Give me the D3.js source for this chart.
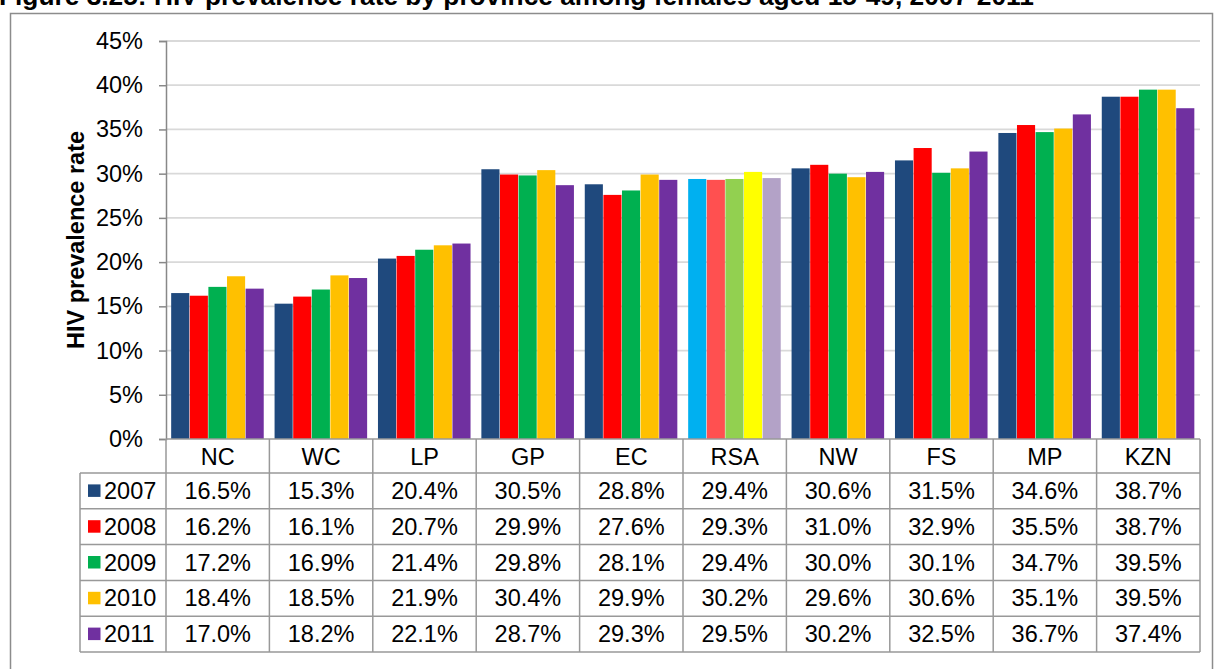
<!DOCTYPE html>
<html><head><meta charset="utf-8">
<script src="https://cdn.jsdelivr.net/npm/d3@7"></script>
<style>body{margin:0;background:#fff;} svg{display:block;font-family:Arial,"Liberation Sans",sans-serif;}</style>
</head><body>
<div id="chart"></div>
<script>
const categories = ["NC","WC","LP","GP","EC","RSA","NW","FS","MP","KZN"];
const years = ["2007","2008","2009","2010","2011"];
const v2007 = [16.5,15.3,20.4,30.5,28.8,29.4,30.6,31.5,34.6,38.7];
const v2008 = [16.2,16.1,20.7,29.9,27.6,29.3,31.0,32.9,35.5,38.7];
const v2009 = [17.2,16.9,21.4,29.8,28.1,29.4,30.0,30.1,34.7,39.5];
const v2010 = [18.4,18.5,21.9,30.4,29.9,30.2,29.6,30.6,35.1,39.5];
const v2011 = [17.0,18.2,22.1,28.7,29.3,29.5,30.2,32.5,36.7,37.4];
const yTicks = [0,5,10,15,20,25,30,35,40,45];
const title = "Figure 3.25: HIV prevalence rate by province among females aged 15-49, 2007-2011";
const yLabel = "HIV prevalence rate";
const colors = ["#1F497D","#FF0000","#00B050","#FFC000","#7030A0"];
const rsaColors = ["#00B0F0","#FF5050","#92D050","#FFFF00","#B3A2C7"];
const series = [v2007,v2008,v2009,v2010,v2011];

(function(){
const W=1215,H=669, FS=23.5;
const svg=d3.select("#chart").append("svg").attr("width",W).attr("height",H);

svg.append("text").attr("x",-1).attr("y",5).attr("font-size",26.3).attr("font-weight","bold").text(title);
svg.append("rect").attr("x",10.5).attr("y",13.5).attr("width",1202).attr("height",700)
  .attr("fill","none").attr("stroke","#8c8c8c").attr("stroke-width",1.5);

const pLeft=166,pRight=1200,pTop=41,pBottom=439;
const x=d3.scaleBand().domain(categories).range([pLeft,pRight]).padding(0);
const bw=x.bandwidth();
const xs=d3.scaleBand().domain(years).range([bw*0.05,bw*0.95]).padding(0);
const y=d3.scaleLinear().domain([0,45]).range([pBottom,pTop]);

svg.append("g").selectAll("line").data(yTicks.filter(t=>t>0)).join("line")
  .attr("x1",pLeft).attr("x2",pRight).attr("y1",d=>y(d)).attr("y2",d=>y(d))
  .attr("stroke","#d9d9d9").attr("stroke-width",1.8);

const g=svg.append("g");
categories.forEach((c,i)=>{
  years.forEach((yr,j)=>{
    const val=series[j][i];
    g.append("rect").attr("x",x(c)+xs(yr)).attr("width",xs.bandwidth()-0.5)
      .attr("y",y(val)).attr("height",y(0)-y(val))
      .attr("fill",c==="RSA"?rsaColors[j]:colors[j]);
  });
});

const ya=svg.append("g").attr("transform",`translate(${pLeft},0)`)
  .call(d3.axisLeft(y).tickValues(yTicks).tickFormat(d=>d+"%").tickSize(7).tickPadding(16));
ya.select(".domain").attr("stroke","#888").attr("stroke-width",1.5);
ya.selectAll(".tick line").attr("stroke","#888").attr("stroke-width",1.5);
ya.selectAll(".tick text").attr("font-size",FS).attr("fill","#000").attr("font-family","Arial,'Liberation Sans',sans-serif");

svg.append("text").attr("transform",`translate(84,240) rotate(-90)`).attr("text-anchor","middle")
  .attr("font-size",23.5).attr("font-weight","bold").text(yLabel);

const rowH=35.8;
const headTop=pBottom, headBot=473;
const tableLeft=80;
const tg=svg.append("g");
categories.forEach(c=>{
  tg.append("text").attr("x",x(c)+bw/2).attr("y",465).attr("text-anchor","middle")
    .attr("font-size",FS).text(c);
});
const lines=svg.append("g").attr("stroke","#999").attr("stroke-width",1.5).attr("fill","none");
categories.forEach(c=>{
  lines.append("line").attr("x1",x(c)+bw).attr("x2",x(c)+bw).attr("y1",headTop).attr("y2",headBot+rowH*5);
});
lines.append("line").attr("x1",pLeft).attr("x2",pLeft).attr("y1",headTop).attr("y2",headBot+rowH*5);
lines.append("line").attr("x1",pLeft).attr("x2",pRight).attr("y1",headTop).attr("y2",headTop);
years.forEach((yr,j)=>{
  const ry=headBot+rowH*j;
  lines.append("line").attr("x1",tableLeft).attr("x2",pRight).attr("y1",ry).attr("y2",ry);
  tg.append("rect").attr("x",88).attr("y",ry+rowH/2-6.5).attr("width",12.5).attr("height",12.5).attr("fill",colors[j]);
  tg.append("text").attr("x",104).attr("y",ry+rowH/2+8).attr("font-size",FS).text(yr);
  categories.forEach((c,i)=>{
    tg.append("text").attr("x",x(c)+bw/2).attr("y",ry+rowH/2+8).attr("text-anchor","middle")
      .attr("font-size",FS).text(series[j][i].toFixed(1)+"%");
  });
});
lines.append("line").attr("x1",tableLeft).attr("x2",pRight).attr("y1",headBot+rowH*5).attr("y2",headBot+rowH*5);
lines.append("line").attr("x1",tableLeft).attr("x2",tableLeft).attr("y1",headBot).attr("y2",headBot+rowH*5);
})();
</script>
</body></html>
